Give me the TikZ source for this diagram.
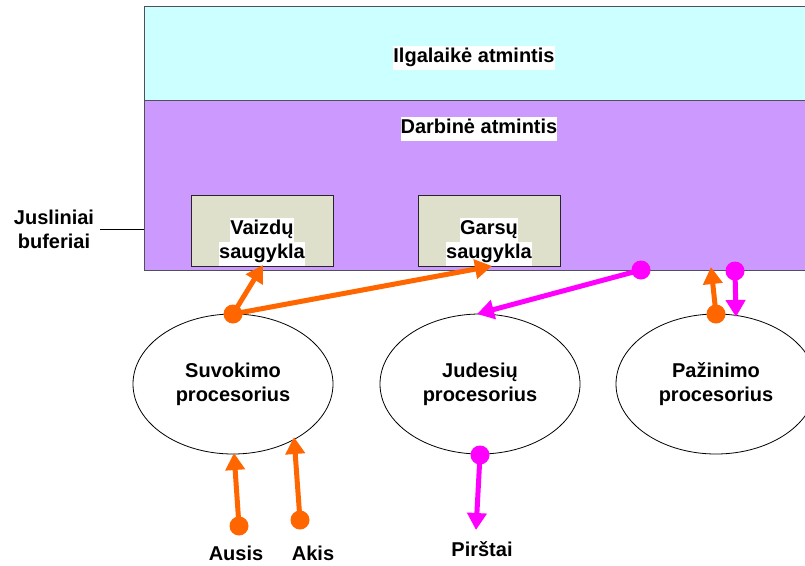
\documentclass[tikz,border=0pt]{standalone}
\usepackage{fontspec}
\setmainfont{Liberation Sans}
\usetikzlibrary{arrows.meta,shapes.geometric}
\definecolor{cyanbg}{RGB}{204,255,255}
\definecolor{purplebg}{RGB}{204,153,255}
\definecolor{boxbg}{RGB}{222,224,204}
\definecolor{bordergray}{RGB}{80,80,90}
\definecolor{orangeA}{RGB}{255,102,0}
\definecolor{magA}{RGB}{255,0,255}
\newcommand\hlw[1]{{\setlength\fboxsep{0pt}\colorbox{white}{\strut #1}}}
\tikzset{
  txt/.style={inner sep=0pt, font=\bfseries\fontsize{20}{24}\selectfont, align=center},
  band/.style={draw=bordergray, line width=1pt},
  store/.style={draw=black!85, line width=1pt, fill=boxbg},
  proc/.style={ellipse, draw=black, line width=0.8pt, minimum width=200pt, minimum height=140pt, inner sep=0pt, font=\bfseries\fontsize{20}{24}\selectfont, align=center},
  dot/.style={circle, inner sep=0pt, minimum size=19pt},
  odot/.style={dot, fill=orangeA},
  mdot/.style={dot, fill=magA},
  arr/.style={line width=5pt, -{Triangle[length=17pt,width=19pt]}},
  oarr/.style={arr, draw=orangeA},
  marr/.style={arr, draw=magA},
}
\begin{document}
\begin{tikzpicture}[x=1pt,y=-1pt]
\useasboundingbox (0,0) rectangle (805,565);
\clip (0,0) rectangle (805,565);
% memory bands
\draw[band, fill=cyanbg] (144,6) rectangle (830,100);
\draw[band, fill=purplebg] (144,100) rectangle (830,270);
\node[txt] (ilg) at (474,58) {\hlw{Ilgalaikė atmintis}};
\node[txt] (darb) at (479,129) {\hlw{Darbinė atmintis}};
% stores
\draw[store] (191,195) rectangle (333,266);
\draw[store] (418,195) rectangle (560,266);
\node[txt] (vaiz) at (262,242) {\hlw{Vaizdų}\\\hlw{saugykla}};
\node[txt] (gars) at (489,242) {\hlw{Garsų}\\\hlw{saugykla}};
% sensory buffers label
\node[txt] (jus) at (54,229) {Jusliniai\\buferiai};
\coordinate (jusR) at (144,229);
\draw[black, line width=0.8pt] (100,229) -- (jusR);
% processors
\node[proc] (suv) at (233,384) {Suvokimo\\procesorius};
\node[proc] (jud) at (480,384) {Judesių\\procesorius};
\node[proc] (paz) at (716,384) {Pažinimo\\procesorius};
% labels
\node[txt] (ausis) at (236,553) {Ausis};
\node[txt] (akis) at (313,553) {Akis};
\node[txt] (pirst) at (482,549) {Pirštai};
% dots
\node[odot] (d1) at (233,314) {};
\node[mdot] (d3) at (641,270) {};
\node[odot] (d4) at (716,314) {};
\node[mdot] (d5) at (735,271) {};
\node[odot] (d6) at (239,526) {};
\node[odot] (d7) at (300,520) {};
\node[mdot] (d8) at (480,455) {};
% arrow tips
\coordinate (t1) at (263,265);
\coordinate (t2) at (492,266);
\coordinate (t3) at (477,314);
\coordinate (t4) at (711,267);
\coordinate (t5) at (736,317);
\coordinate (t6) at (234,453);
\coordinate (t7) at (294,437);
\coordinate (t8) at (476,530);
% arrows
\draw[oarr] (d1.center) -- (t1);
\draw[oarr] (d1.center) -- (t2);
\draw[marr] (d3.center) -- (t3);
\draw[oarr] (d4.center) -- (t4);
\draw[marr] (d5.center) -- (t5);
\draw[oarr] (d6.center) -- (t6);
\draw[oarr] (d7.center) -- (t7);
\draw[marr] (d8.center) -- (t8);
\end{tikzpicture}
\end{document}
